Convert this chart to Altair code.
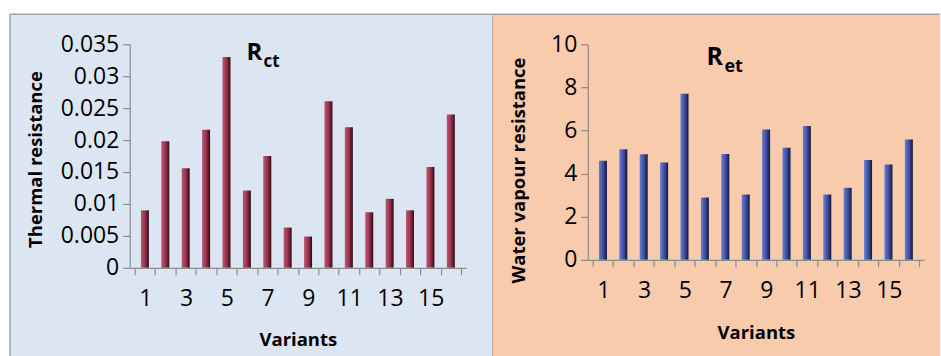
import altair as alt
import pandas as pd

# Variants 1..16
variants = list(range(1, 17))

# Thermal resistance Rct per variant
rct = [0.0090, 0.0198, 0.0156, 0.0216, 0.0330, 0.0121, 0.0175, 0.0063,
       0.0049, 0.0261, 0.0220, 0.0087, 0.0108, 0.0090, 0.0158, 0.0240]

# Water vapour resistance Ret per variant
ret = [4.60, 5.13, 4.90, 4.51, 7.71, 2.89, 4.91, 3.03,
       6.05, 5.20, 6.21, 3.03, 3.34, 4.63, 4.42, 5.58]

rct_ticks = [0, 0.005, 0.01, 0.015, 0.02, 0.025, 0.03, 0.035]
ret_ticks = [0, 2, 4, 6, 8, 10]
band_edges = [v - 0.5 for v in variants] + [16.5]

FONT = "Open Sans"
W = 337
BORDER = "#a3a3a3"

df_rct = pd.DataFrame({"variant": variants, "value": rct})
df_ret = pd.DataFrame({"variant": variants, "value": ret})
one = pd.DataFrame({"k": [0]})

x_label_expr = ("datum.value < 16 && (datum.value + 0.5) % 2 == 1 "
                "? format(datum.value + 0.5, 'd') : ''")


def x_enc(title_y):
    return alt.X(
        "variant:Q",
        scale=alt.Scale(domain=[0.5, 16.5], nice=False, zero=False),
        axis=alt.Axis(
            title="Variants", values=band_edges, labelExpr=x_label_expr,
            labelOffset=10.5, labelOverlap=False, labelFlush=False,
            tickSize=7, labelPadding=13, grid=False,
            titleY=title_y, titleBaseline="alphabetic",
            zindex=1,
        ),
    )


def border(x, x2, y, y2):
    return alt.Chart(one).mark_rule(color=BORDER, strokeWidth=1.5).encode(
        x=alt.value(x), x2=alt.value(x2), y=alt.value(y), y2=alt.value(y2)
    )


def panel(df, ticks, fmt, ytitle, height, xtitle_y, title_x, title_y, fill,
          stops, rect_x, rect_x2, sub, r_pos, sub_pos, r_size, sub_size,
          left_edge):
    bottom = 313
    bg = alt.Chart(one).mark_rect(fill=fill).encode(
        x=alt.value(rect_x), x2=alt.value(rect_x2),
        y=alt.value(-30), y2=alt.value(bottom),
    )
    lines = [border(rect_x, rect_x2, -30, -30)]
    if left_edge:
        lines.append(border(rect_x, rect_x, -30, bottom))
        lines.append(border(rect_x2, rect_x2, -30, bottom))
    bars = alt.Chart(df).mark_bar(
        size=8,
        color=alt.Gradient(gradient="linear", x1=0, x2=1, y1=0, y2=0,
                           stops=stops),
    ).encode(
        x=x_enc(xtitle_y),
        y=alt.Y(
            "value:Q",
            scale=alt.Scale(domain=[ticks[0], ticks[-1]], nice=False),
            axis=alt.Axis(
                title=ytitle, values=ticks, format=fmt, grid=False,
                tickSize=7, labelPadding=4,
                titleX=title_x, titleY=title_y, titleAngle=270,
                titleBaseline="alphabetic", zindex=1,
            ),
        ),
    )
    r = alt.Chart(one).mark_text(
        text="R", font=FONT, fontWeight="bold", fontSize=r_size,
        align="left", baseline="alphabetic", color="black",
    ).encode(x=alt.value(r_pos[0]), y=alt.value(r_pos[1]))
    s = alt.Chart(one).mark_text(
        text=sub, font=FONT, fontWeight="bold", fontSize=sub_size,
        align="left", baseline="alphabetic", color="black",
    ).encode(x=alt.value(sub_pos[0]), y=alt.value(sub_pos[1]))
    return alt.layer(bg, *lines, bars, r, s).properties(width=W, height=height)


left = panel(
    df_rct, rct_ticks, "~g", "Thermal resistance", 224, 78, -88, 115,
    "#dce6f2",
    [alt.GradientStop(offset=0, color="#bb5570"),
     alt.GradientStop(offset=0.45, color="#a03854"),
     alt.GradientStop(offset=0.8, color="#5e1a2e"),
     alt.GradientStop(offset=1, color="#2a0912")],
    -120, 364, "ct", (117, 16), (134, 23), 24, 17, True,
)

right = panel(
    df_ret, ret_ticks, "d", "Water vapour resistance", 216, 79, -63, 126,
    "#f8cbad",
    [alt.GradientStop(offset=0, color="#6c7cd0"),
     alt.GradientStop(offset=0.45, color="#4556aa"),
     alt.GradientStop(offset=0.8, color="#262f6c"),
     alt.GradientStop(offset=1, color="#0e1232")],
    -95, 353, "et", (119, 21), (137, 28), 25, 18, False,
)

chart = alt.hconcat(left, right, spacing=122, bounds="flush").properties(
    padding={"left": 9, "top": 13, "right": 0, "bottom": 0},
    background="white",
).configure_view(stroke=None).configure_axis(
    labelFont=FONT, titleFont=FONT, labelFontSize=23, labelColor="black",
    titleFontSize=18.5, titleFontWeight="bold",
    titleColor="black", domainColor="#8c8c8c", tickColor="#8c8c8c",
    domainWidth=1.2, tickWidth=1.2,
)

chart.save("out.html", embed_options={"renderer": "svg", "actions": False})
